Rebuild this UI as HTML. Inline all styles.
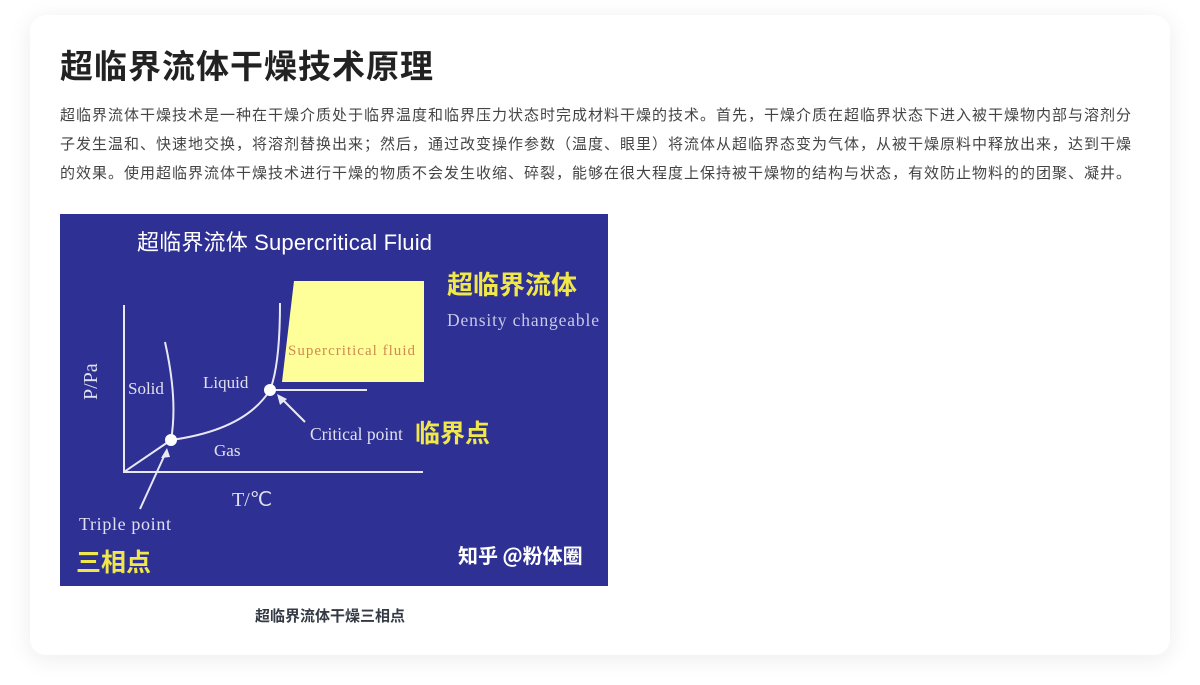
<!DOCTYPE html>
<html><head><meta charset="utf-8"><style>
html,body{margin:0;padding:0;background:#fff;width:1200px;height:685px;overflow:hidden}
.card{position:absolute;left:30px;top:15px;width:1140px;height:640px;background:#fff;border-radius:16px;box-shadow:0 4px 24px rgba(0,0,0,0.08)}
.t{position:absolute;left:60px;top:40px;font:bold 33px "Liberation Sans","Noto Sans CJK SC",sans-serif;color:#222;white-space:nowrap;letter-spacing:1px}
.p{position:absolute;left:60px;top:101px;font:15px/29px "Liberation Sans","Noto Sans CJK SC",sans-serif;color:#444;letter-spacing:1px;white-space:nowrap}
.cap{position:absolute;left:255px;top:605px;font:bold 15px "Liberation Sans","Noto Sans CJK SC",sans-serif;color:#333a44;white-space:nowrap}
svg{position:absolute;left:0;top:0}
</style></head><body>
<div class="card"></div>
<div class="t">超临界流体干燥技术原理</div>
<div class="p">超临界流体干燥技术是一种在干燥介质处于临界温度和临界压力状态时完成材料干燥的技术。首先，干燥介质在超临界状态下进入被干燥物内部与溶剂分<br>子发生温和、快速地交换，将溶剂替换出来；然后，通过改变操作参数（温度、眼里）将流体从超临界态变为气体，从被干燥原料中释放出来，达到干燥<br>的效果。使用超临界流体干燥技术进行干燥的物质不会发生收缩、碎裂，能够在很大程度上保持被干燥物的结构与状态，有效防止物料的的团聚、凝井。</div>
<svg width="1200" height="685">
<rect x="60" y="214" width="548" height="372" fill="#2e3093"/>
<text x="137" y="250" font-family="Liberation Sans,Noto Sans CJK SC,sans-serif" font-size="22" fill="#fff" textLength="295">超临界流体 Supercritical Fluid</text>
<polygon points="294,281 424,281 424,382 282,382" fill="#ffff99"/>
<text x="288" y="355" font-family="Liberation Serif,serif" font-size="15" fill="#d08a50" textLength="127">Supercritical fluid</text>
<g stroke="#e8e8f4" stroke-width="2" fill="none">
<line x1="124" y1="305" x2="124" y2="473"/>
<line x1="123" y1="472" x2="423" y2="472"/>
<line x1="270" y1="390" x2="367" y2="390"/>
<path d="M165,342 Q178,400 171,440"/>
<path d="M280,303 Q280,365 270,390"/>
<path d="M171,440 Q245,430 270,390"/>
<line x1="124" y1="472" x2="171" y2="440"/>
<line x1="140" y1="509" x2="166" y2="452"/>
<line x1="305" y1="422" x2="280" y2="397"/>
</g>
<polygon points="167,448 161,458 170,457" fill="#e8e8f4"/>
<polygon points="277,394 280,405 287,399" fill="#e8e8f4"/>
<circle cx="270" cy="390" r="6" fill="#fff"/>
<circle cx="171" cy="440" r="6" fill="#fff"/>
<g font-family="Liberation Serif,serif" fill="#e0e0ee">
<text x="128" y="394" font-size="17">Solid</text>
<text x="203" y="388" font-size="17">Liquid</text>
<text x="214" y="456" font-size="17">Gas</text>
<text x="232" y="506" font-size="20">T/℃</text>
<text x="79" y="530" font-size="18" textLength="92">Triple point</text>
<text x="310" y="440" font-size="17.5">Critical point</text>
<text x="447" y="326" font-size="17.5" fill="#c8c8e8" textLength="152">Density changeable</text>
<text transform="translate(97,400) rotate(-90)" font-size="20">P/Pa</text>
</g>
<g font-family="Noto Sans CJK SC,sans-serif" font-weight="bold" fill="#f0e84a">
<text x="76" y="571" font-size="25">三相点</text>
<text x="415" y="442" font-size="25">临界点</text>
<text x="447" y="294" font-size="26">超临界流体</text>
</g>
<text x="458" y="563" font-family="Noto Sans CJK SC,sans-serif" font-weight="bold" font-size="20" fill="#fff">知乎 @粉体圈</text>
</svg>
<div class="cap">超临界流体干燥三相点</div>
</body></html>
